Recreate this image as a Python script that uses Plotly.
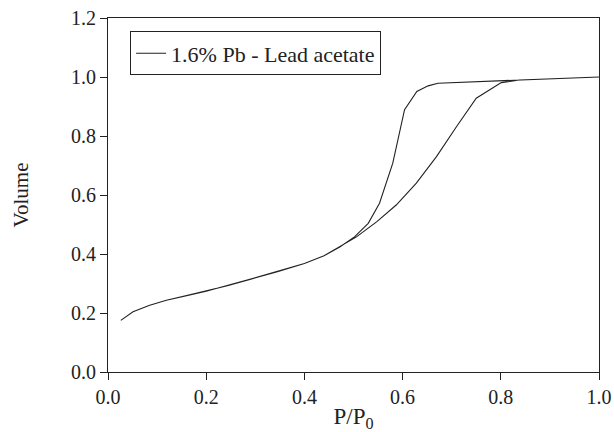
import plotly.graph_objects as go

# Shared low-pressure part (both branches coincide here)
common_x = [0.026, 0.051, 0.085, 0.119, 0.160, 0.200, 0.245, 0.289, 0.345, 0.400, 0.440, 0.472]
common_y = [0.175, 0.204, 0.226, 0.243, 0.259, 0.274, 0.293, 0.314, 0.340, 0.368, 0.394, 0.424]
# Adsorption branch (upper part)
ads_x = [0.506, 0.547, 0.587, 0.628, 0.669, 0.710, 0.750, 0.801, 0.838, 1.000]
ads_y = [0.458, 0.509, 0.566, 0.640, 0.730, 0.832, 0.928, 0.981, 0.990, 1.000]
# Desorption branch (upper part)
des_x = [1.000, 0.672, 0.652, 0.629, 0.604, 0.580, 0.553, 0.530, 0.502]
des_y = [1.000, 0.979, 0.970, 0.951, 0.889, 0.708, 0.572, 0.504, 0.458]

x_vals = common_x + ads_x + des_x + common_x[::-1]
y_vals = common_y + ads_y + des_y + common_y[::-1]

fig = go.Figure()
fig.add_trace(go.Scatter(
    x=x_vals, y=y_vals, mode="lines",
    line=dict(color="#222222", width=1.1),
    name="1.6% Pb - Lead acetate",
))

FONT = "Liberation Serif"

axis_common = dict(
    showgrid=False, zeroline=False,
    showline=True, linecolor="#222222", linewidth=1.2,
    mirror=True,
    ticks="outside", ticklen=7, tickwidth=1, tickcolor="#222222",
    tickfont=dict(family=FONT, size=20, color="#222222"),
    ticklabeloverflow="allow",
    automargin=False,
)

fig.update_layout(
    width=614, height=432,
    margin=dict(l=108, r=15, t=18, b=60),
    paper_bgcolor="white", plot_bgcolor="white",
    font=dict(family=FONT, color="#222222"),
    showlegend=True,
    legend=dict(
        x=0.045, y=0.962, xanchor="left", yanchor="top",
        bordercolor="#222222", borderwidth=1,
        bgcolor="white",
        font=dict(family=FONT, size=22, color="#222222"),
    ),
    xaxis=dict(
        range=[0, 1.0], dtick=0.2, tickformat=".1f",
        title=dict(text="P/P<sub>0</sub>", font=dict(family=FONT, size=23), standoff=4),
        **axis_common,
    ),
    yaxis=dict(
        range=[0, 1.2], dtick=0.2, tickformat=".1f",
        title=dict(text="Volume", font=dict(family=FONT, size=21), standoff=36),
        **axis_common,
    ),
)

# Remove the browser's default page margin so the figure sits at the window's corner.
fig.write_html(
    "out.html",
    config={"displayModeBar": False},
    post_script="document.body.style.margin='0';document.body.style.overflow='hidden';",
)
